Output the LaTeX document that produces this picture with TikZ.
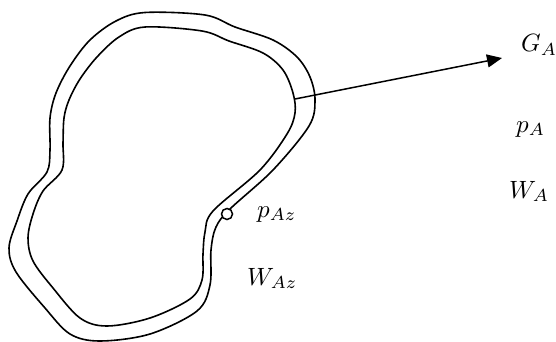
\documentclass[tikz,border=0pt]{standalone}
\usepackage{graphicx}
\usetikzlibrary{arrows.meta}
\newcommand{\biglbl}[1]{\scalebox{2.5}{$#1$}}
\begin{document}
\begin{tikzpicture}[x=1pt,y=-1pt,
  wall/.style={line width=1.6pt,line join=round},
  lbl/.style={anchor=base west,inner sep=0pt},
  port/.style={circle,draw,line width=1.5pt,fill=white,inner sep=0pt,minimum size=11pt}]
\useasboundingbox (0,0) rectangle (556,342);
% outer wall
\draw[wall] plot[smooth cycle,tension=0.55] coordinates {
 (145,12.5) (205,15) (235,27) (273,40) (297,57) (310,77) (315,100)
 (309,126) (273,170) (230,209) (216,227) (211,250) (210,285)
 (197,311) (150,334) (100,341) (70,334) (45,308) (16,272) (9,248)
 (17,221) (28,194) (47,172) (50,150) (50,118) (56,93) (70,66)
 (90,40) (116,21)};
% inner wall
\draw[wall] plot[smooth cycle,tension=0.55] coordinates {
 (145,27) (202,31) (229,41) (263,53) (283,70) (293,93) (295,113)
 (287,134) (260,170) (213,211) (205,232) (203,254) (202,280)
 (190,299) (150,318) (107,326) (80,318) (53,288) (33,261) (28,238)
 (33,214) (43,191) (62,170) (63,143) (64,118) (69,100) (80,79) (97,57) (119,37)};
\coordinate (start) at (295,99);
\coordinate (tip) at (502,58);
\draw[line width=1.5pt,-{Triangle[length=15pt,width=13pt]}] (start) -- (tip);
\node[port] (pz) at (227,214) {};
\node[lbl] (GA) at (521,52) {\biglbl{G_A}};
\node[lbl] (pA) at (516,132) {\biglbl{p_A}};
\node[lbl] (WA) at (509,198) {\biglbl{W_A}};
\node[lbl] (pAz) at (257,217) {\biglbl{p_{Az}}};
\node[lbl] (WAz) at (247,285) {\biglbl{W_{Az}}};
\end{tikzpicture}
\end{document}
